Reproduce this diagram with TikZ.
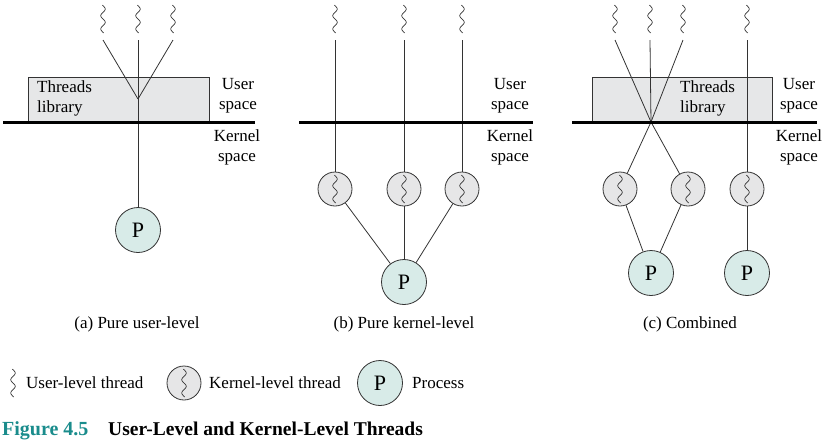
\documentclass[tikz,border=0pt]{standalone}
\usepackage{fontspec}
\setmainfont{Liberation Serif}
\definecolor{procfill}{HTML}{D8EBE8}
\definecolor{kfill}{HTML}{E6E6E7}
\definecolor{boxfill}{HTML}{E6E7E8}
\definecolor{linec}{HTML}{333333}
\definecolor{figteal}{HTML}{1A8C8C}
\begin{document}
\begin{tikzpicture}[x=1pt,y=-1pt,
  thin line/.style={draw=linec, line width=0.8pt},
  kline/.style={draw=black, line width=3pt},
  libbox/.style={draw=linec, line width=0.8pt, fill=boxfill, inner sep=0pt},
  proc/.style={circle, draw=linec, line width=0.8pt, fill=procfill, minimum size=45pt, inner sep=0pt, font=\fontsize{22}{24}\selectfont},
  kth/.style={circle, draw=linec, line width=0.8pt, fill=kfill, minimum size=34pt, inner sep=0pt},
  lbl/.style={font=\fontsize{17}{20}\selectfont, align=center, inner sep=0pt},
  libtext/.style={font=\fontsize{17}{20}\selectfont, align=left, inner sep=0pt},
  squig/.pic={\draw[linec, line width=0.7pt] plot[domain=-1:1, samples=80, smooth] ({2.2*sin(\x*380)}, {\x*14});}
]
\useasboundingbox (0,0) rectangle (831,445);

% ---------- (a) ----------
\node[libbox, minimum width=181pt, minimum height=44pt] (liba) at (118.5,99) {};
\node[libtext, anchor=west] (libatxt) at (37,98) {Threads\\library};
\pic at (103,19) {squig};
\pic at (138,19) {squig};
\pic at (173,19) {squig};
\coordinate (a1) at (103,40);
\coordinate (a2) at (138,40);
\coordinate (a3) at (173,40);
\coordinate (av) at (138,99);
\node[proc] (pa) at (138,230) {P};
\draw[thin line] (a1) -- (av);
\draw[thin line] (a3) -- (av);
\draw[thin line] (a2) -- (pa);
\draw[kline] (3,122) -- (255,122);
\node[lbl] (usa) at (238,96) {User\\space};
\node[lbl] (ksa) at (237,147) {Kernel\\space};
\node[lbl] (capa) at (137,324) {(a) Pure user-level};

% ---------- (b) ----------
\pic at (335,19) {squig};
\pic at (404,19) {squig};
\pic at (462,19) {squig};
\coordinate (b1) at (335,40);
\coordinate (b2) at (404,40);
\coordinate (b3) at (462,40);
\node[kth] (kb1) at (335,189) {};
\node[kth] (kb2) at (404,189) {};
\node[kth] (kb3) at (462,189) {};
\pic at (335,189) {squig};
\pic at (404,189) {squig};
\pic at (462,189) {squig};
\node[proc] (pb) at (404,282) {P};
\draw[thin line] (b1) -- (kb1);
\draw[thin line] (b2) -- (kb2);
\draw[thin line] (b3) -- (kb3);
\draw[thin line] (kb1) -- (pb);
\draw[thin line] (kb2) -- (pb);
\draw[thin line] (kb3) -- (pb);
\draw[kline] (299,122) -- (533,122);
\node[lbl] (usb) at (510,96) {User\\space};
\node[lbl] (ksb) at (510,147) {Kernel\\space};
\node[lbl] (capb) at (404,324) {(b) Pure kernel-level};

% ---------- (c) ----------
\node[libbox, minimum width=180pt, minimum height=44pt] (libc) at (682,99) {};
\node[libtext, anchor=west] (libctxt) at (680,98) {Threads\\library};
\pic at (615,19) {squig};
\pic at (650,19) {squig};
\pic at (683,19) {squig};
\pic at (747,19) {squig};
\coordinate (c1) at (615,40);
\coordinate (c2) at (650,40);
\coordinate (c3) at (683,40);
\coordinate (c4) at (747,40);
\coordinate (cx) at (651,122);
\node[kth] (kc1) at (620,189) {};
\node[kth] (kc2) at (688,189) {};
\node[kth] (kc3) at (747,189) {};
\pic at (620,189) {squig};
\pic at (688,189) {squig};
\pic at (747,189) {squig};
\node[proc] (pc1) at (651,273) {P};
\node[proc] (pc2) at (747,273) {P};
\draw[thin line] (c1) -- (cx);
\draw[thin line] (c2) -- (cx);
\draw[thin line] (c3) -- (cx);
\draw[thin line] (cx) -- (kc1);
\draw[thin line] (cx) -- (kc2);
\draw[thin line] (c4) -- (kc3);
\draw[thin line] (kc1) -- (pc1);
\draw[thin line] (kc2) -- (pc1);
\draw[thin line] (kc3) -- (pc2);
\draw[kline] (572,122) -- (817,122);
\node[lbl] (usc) at (799,96) {User\\space};
\node[lbl] (ksc) at (799,147) {Kernel\\space};
\node[lbl] (capc) at (690,324) {(c) Combined};

% ---------- legend ----------
\pic at (13,383) {squig};
\node[lbl, anchor=west] (lg1) at (26,383) {User-level thread};
\node[kth] (lgk) at (184,383) {};
\pic at (184,383) {squig};
\node[lbl, anchor=west] (lg2) at (209,383) {Kernel-level thread};
\node[proc] (lgp) at (380,383) {P};
\node[lbl, anchor=west] (lg3) at (412,383) {Process};

% ---------- caption ----------
\node[anchor=base west, inner sep=0pt, font=\fontsize{20}{22}\selectfont\bfseries, text=figteal] (fig) at (2,435) {Figure 4.5};
\node[anchor=base west, inner sep=0pt, font=\fontsize{19.5}{22}\selectfont\bfseries] (figt) at (108,435) {User-Level and Kernel-Level Threads};
\end{tikzpicture}
\end{document}
